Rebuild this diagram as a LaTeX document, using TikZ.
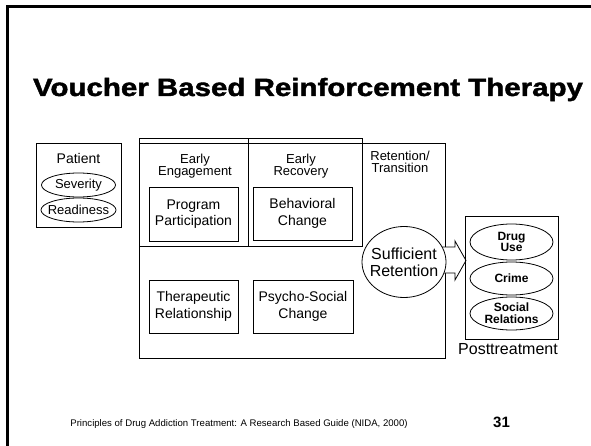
\documentclass[tikz,border=0pt]{standalone}
\usepackage{fontspec}
\setmainfont{Liberation Sans}
\newfontfamily\titlefont[FakeBold=1.5]{Liberation Sans}
\usepackage{graphicx}
\usetikzlibrary{shapes.geometric}
\begin{document}
\begin{tikzpicture}[x=1pt,y=-1pt,
  box/.style={draw, line width=0.8pt, inner sep=0pt},
  lbl/.style={inner sep=0pt, align=center, font=\fontsize{13}{12}\selectfont},
  inbox/.style={draw, line width=0.8pt, inner sep=0pt, align=center, font=\fontsize{14}{16.5}\selectfont},
  oval/.style={draw, ellipse, line width=0.8pt, fill=white, inner sep=0pt},
  smalltxt/.style={inner sep=0pt, align=center, font=\fontsize{13}{14}\selectfont},
  boldtxt/.style={inner sep=0pt, align=center, font=\fontsize{12}{11.8}\selectfont\bfseries}]
\useasboundingbox (0,0) rectangle (591,446);
\fill[white] (0,0) rectangle (591,446);
% slide frame
\draw[line width=3pt] (7.5,446) -- (7.5,6.5) -- (591,6.5);
% title
\node[inner sep=0pt, anchor=base] (title) at (308,96)
  {\resizebox{550pt}{\height}{\fontsize{25}{30}\titlefont\bfseries Voucher Based Reinforcement Therapy}};
% patient
\node[box, minimum width=85pt, minimum height=84pt] (patient) at (78.5,185) {};
\node[inner sep=0pt, font=\fontsize{14}{14}\selectfont, anchor=base] (ptxt) at (78.5,164) {Patient};
\node[oval, minimum width=74pt, minimum height=24pt] (sev) at (78.5,185) {};
\node[smalltxt] (sevtxt) at (sev) {Severity};
\node[oval, minimum width=75pt, minimum height=24pt] (ready) at (78.5,210) {};
\node[smalltxt] (readytxt) at (ready) {Readiness};
% main box and columns
\node[box, minimum width=306pt, minimum height=215pt] (main) at (292,250.5) {};
\node[box, minimum width=109pt, minimum height=108pt] (eng) at (193.5,192) {};
\node[box, minimum width=114pt, minimum height=108pt] (rec) at (305,192) {};
\node[lbl] (engtxt) at (195,166) {Early\\Engagement};
\node[lbl] (rectxt) at (301,166) {Early\\Recovery};
\node[lbl] (rettxt) at (400,162) {Retention/\\Transition};
\node[inbox, minimum width=89pt, minimum height=54pt] (prog) at (193.5,214) {Program\\Participation};
\node[inbox, minimum width=99pt, minimum height=53pt] (beh) at (302.5,213.5) {Behavioral\\Change};
\node[inbox, minimum width=89pt, minimum height=53pt] (ther) at (193.5,306.5) {Therapeutic\\Relationship};
\node[inbox, minimum width=100pt, minimum height=53pt] (psy) at (303,306.5) {Psycho-Social\\Change};
% block arrow
\filldraw[fill=white, line width=0.8pt] (432,247) -- (455,247) -- (455,241) -- (466,260.5)
  -- (455,280) -- (455,273) -- (432,273) -- cycle;
\node[oval, minimum width=84pt, minimum height=71pt] (suff) at (404,262) {};
\node[inner sep=0pt, align=center, font=\fontsize{16}{17.3}\selectfont] (sufftxt) at (suff) {Sufficient\\Retention};
% posttreatment
\node[box, minimum width=93pt, minimum height=123pt] (post) at (511.5,277.5) {};
\node[oval, minimum width=83pt, minimum height=36pt] (drug) at (511.5,242) {};
\node[boldtxt] (drugtxt) at (drug) {Drug\\Use};
\node[oval, minimum width=83pt, minimum height=33pt] (crime) at (511.5,278.5) {};
\node[boldtxt] (crimetxt) at (crime) {Crime};
\node[oval, minimum width=83pt, minimum height=33pt] (social) at (511.5,313.5) {};
\node[boldtxt] (socialtxt) at (social) {Social\\Relations};
\node[inner sep=0pt, anchor=base, font=\fontsize{16}{16}\selectfont] (posttxt) at (508,354) {Posttreatment};
% footer
\node[inner sep=0pt, anchor=base, font=\fontsize{9.6}{10}\selectfont] (foot) at (239,426) {Principles of Drug Addiction Treatment: A Research Based Guide (NIDA, 2000)};
\node[inner sep=0pt, anchor=base, font=\fontsize{15}{15}\selectfont\bfseries] (num) at (501.5,427.5) {31};
\end{tikzpicture}
\end{document}
